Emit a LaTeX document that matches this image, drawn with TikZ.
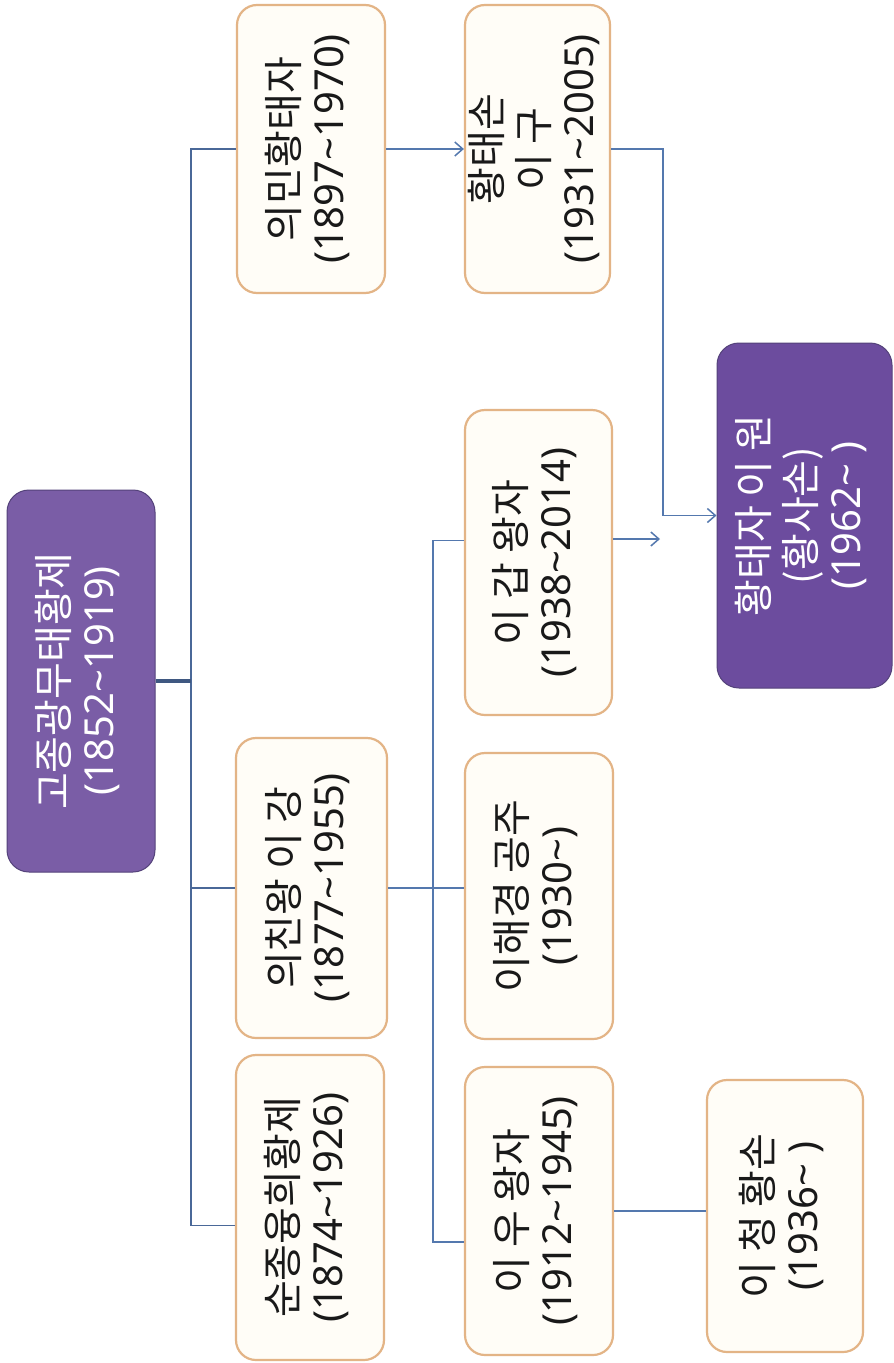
\documentclass[tikz,border=0pt]{standalone}
\usepackage{fontspec}
\setmainfont{Noto Sans CJK KR}
\newfontfamily\numfont{Noto Sans}
\usepackage{graphicx}
\usetikzlibrary{arrows.meta}
\definecolor{rootfill}{HTML}{7A5DA6}
\definecolor{wonfill}{HTML}{6C4C9E}
\definecolor{pline}{HTML}{54427A}
\definecolor{boxline}{HTML}{E3B486}
\definecolor{boxfill}{HTML}{FFFDF7}
\definecolor{connc}{HTML}{5478AE}
\definecolor{trunkc}{HTML}{4A6898}
\newcommand{\rottext}[1]{\rotatebox{90}{\begin{tabular}{@{}c@{}}#1\end{tabular}}}
\newcommand{\yrs}[1]{{\numfont #1}}
\begin{document}
\begin{tikzpicture}[x=1pt,y=-1pt,
  sz/.style 2 args={minimum width=#1pt, minimum height=#2pt},
  basebox/.style={rectangle, inner sep=0pt, font=\fontsize{40}{45}\selectfont},
  cbox/.style={basebox, draw=boxline, line width=2.2pt, fill=boxfill, rounded corners=20pt, text=black!90},
  pbox/.style={basebox, draw=pline, line width=1pt, fill=rootfill, rounded corners=22pt, text=white},
  conn/.style={draw=connc, line width=1.6pt},
  trunk/.style={draw=trunkc, line width=1.8pt},
  rootconn/.style={draw=trunkc!85!black, line width=3.5pt},
  arr/.style={conn, -{Straight Barb[length=8pt,width=14pt,line width=1.5pt]}}
]
\useasboundingbox (0,0) rectangle (894,1363);
\fill[white] (0,0) rectangle (894,1363);

% trunk x positions
\coordinate (tx) at (191,0);
\coordinate (tx2) at (433,0);
\coordinate (tx3) at (663,0);
\coordinate (gapend) at (660,539);

% nodes
\node[pbox, sz={148}{382}] (root) at (81,681)
  {\rottext{고종광무태황제\\ \yrs{(1852\textasciitilde1919)}}};
\node[cbox, sz={148}{288}] (uimin) at (311,149)
  {\rottext{의민황태자\\ \yrs{(1897\textasciitilde1970)}}};
\node[cbox, sz={145}{288}] (hts) at (537.5,149)
  {\rottext{황태손\\ 이 구\\ \yrs{(1931\textasciitilde2005)}}};
\node[pbox, fill=wonfill, sz={175}{345}] (won) at (804.5,515.5)
  {\rottext{황태자 이 원\\ (황사손)\\ \yrs{(1962\textasciitilde\ )}}};
\node[cbox, sz={147}{305}] (igap) at (538.5,562.5)
  {\rottext{이 갑 왕자\\ \yrs{(1938\textasciitilde2014)}}};
\node[cbox, sz={151}{300}] (uichin) at (311.5,888)
  {\rottext{의친왕 이 강\\ \yrs{(1877\textasciitilde1955)}}};
\node[cbox, sz={148}{286}] (haeg) at (539,896)
  {\rottext{이해경 공주\\ \yrs{(1930\textasciitilde)}}};
\node[cbox, sz={148}{305}] (sunj) at (310,1207.5)
  {\rottext{순종융희황제\\ \yrs{(1874\textasciitilde1926)}}};
\node[cbox, sz={148}{288}] (iu) at (539,1211)
  {\rottext{이 우 왕자\\ \yrs{(1912\textasciitilde1945)}}};
\node[cbox, sz={156}{272}] (ich) at (785,1216)
  {\rottext{이 청 황손\\ \yrs{(1936\textasciitilde\ )}}};

% main trunk
\draw[trunk] ([yshift=-18pt]sunj.west) -- ([yshift=-18pt]sunj.west -| tx)
  -- (uimin.west -| tx) -- (uimin.west);
\draw[trunk] (uichin.west -| tx) -- (uichin.west);
\draw[rootconn] (root.east) -- (root.east -| tx);

% second trunk
\draw[conn] (uichin.east) -- (uichin.east -| haeg.west);
\draw[conn] ([yshift=22pt]igap.west) -- ([yshift=22pt]igap.west -| tx2)
  -- ([yshift=-31pt]iu.west -| tx2) -- ([yshift=-31pt]iu.west);

% arrows
\draw[arr] (uimin.east) -- (hts.west);
\draw[arr] (hts.east) -- (hts.east -| tx3) |- (won.west);
\draw[arr] (gapend -| igap.east) -- (gapend);
\draw[conn] (iu.east) -- (iu.east -| ich.west);
\end{tikzpicture}
\end{document}
